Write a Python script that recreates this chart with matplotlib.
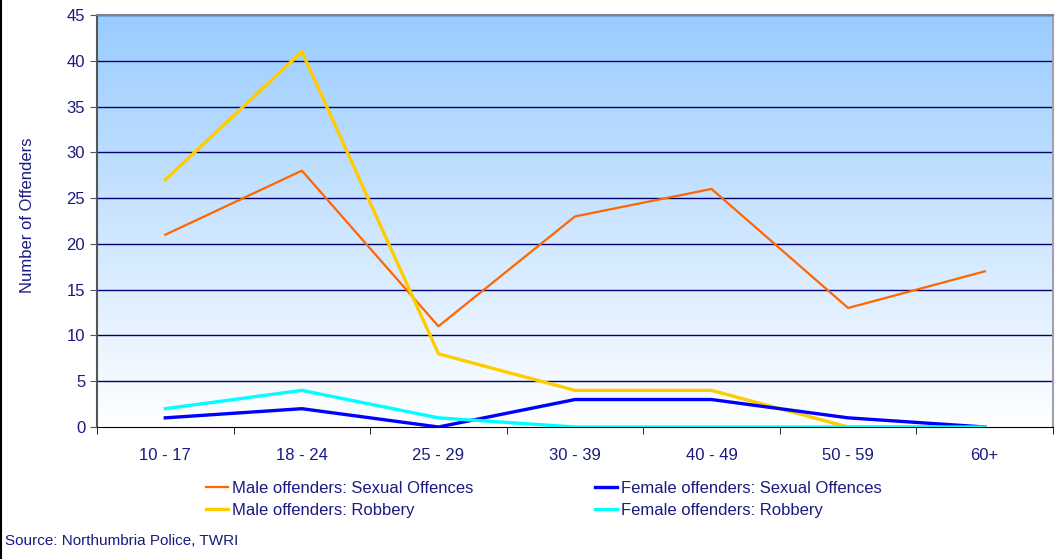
import numpy as np
import matplotlib
matplotlib.use("Agg")
from matplotlib import pyplot as plt
from matplotlib.lines import Line2D

# Data
age_groups = ["10 - 17", "18 - 24", "25 - 29", "30 - 39", "40 - 49", "50 - 59", "60+"]
male_sexual = [21, 28, 11, 23, 26, 13, 17]
male_robbery = [27, 41, 8, 4, 4, 0, 0]
female_sexual = [1, 2, 0, 3, 3, 1, 0]
female_robbery = [2, 4, 1, 0, 0, 0, 0]

navy = "#1a1a80"
plt.rcParams['font.family'] = ['Liberation Sans Narrow', 'Liberation Sans', 'DejaVu Sans']

fig = plt.figure(figsize=(10.57, 5.59), dpi=100)
ax = fig.add_axes([97/1057, 1 - 427/559, (1053-97)/1057, (427-15)/559])

x = np.arange(len(age_groups))

# gradient background: light blue on top, fading to white at the bottom
grad = np.linspace(0, 1, 256).reshape(-1, 1)
top = np.array([0x99, 0xCC, 0xFF]) / 255
bot = np.array([1.0, 1.0, 1.0])
img = top * (1 - grad[..., None]) + bot * grad[..., None]
img = img.reshape(256, 1, 3)
ax.imshow(img, aspect='auto', extent=[-0.5, 6.5, 0, 45], origin='upper', zorder=0)

for yv in range(5, 50, 5):
    ax.axhline(yv, color="#000070", lw=1.0, zorder=1)

ax.plot(x, male_sexual, color="#FF6600", lw=1.6, zorder=3, label="Male offenders: Sexual Offences")
ax.plot(x, male_robbery, color="#FFCC00", lw=2.4, zorder=3, label="Male offenders: Robbery")
ax.plot(x, female_sexual, color="#0000FF", lw=2.4, zorder=3, label="Female offenders: Sexual Offences")
ax.plot(x, female_robbery, color="#00FFFF", lw=2.4, zorder=4, label="Female offenders: Robbery")

ax.set_xlim(-0.5, 6.5)
ax.set_ylim(0, 45)
ax.set_yticks(range(0, 50, 5))
ax.set_xticks(x)
ax.set_xticklabels(age_groups)
ax.set_xticks(np.arange(-0.5, 7, 1), minor=True)
ax.tick_params(axis='x', which='major', length=0, pad=15, labelsize=12, labelcolor=navy)
ax.tick_params(axis='x', which='minor', length=5, direction='out', color='black')
ax.tick_params(axis='y', length=5, direction='out', color='#555555', labelsize=12, labelcolor=navy)

ax.spines['left'].set_color('#555555')
ax.spines['left'].set_linewidth(1.5)
ax.spines['bottom'].set_color('black')
ax.spines['top'].set_color('#808090')
ax.spines['top'].set_linewidth(1.5)
ax.spines['right'].set_color('#a0a0b0')
ax.spines['right'].set_linewidth(1.5)

fig.text(28/1057, 1 - 215/559, "Number of Offenders", rotation=90, ha='center', va='center',
         color=navy, fontsize=12)

handles, labels = ax.get_legend_handles_labels()
leg = fig.legend(handles, labels,
                 ncol=2, loc='upper left', bbox_to_anchor=(206/1057, 1 - 481/559),
                 frameon=False, fontsize=12, handlelength=1.3, handletextpad=0.25,
                 columnspacing=7.3, labelspacing=0.4, borderaxespad=0, borderpad=0)
for t in leg.get_texts():
    t.set_color(navy)

fig.text(5/1057, 1 - 541/559, "Source: Northumbria Police, TWRI", color=navy, fontsize=11,
         ha='left', va='center')

fig.add_artist(Line2D([1/1057, 1/1057], [0, 1], color='black', lw=1.5, transform=fig.transFigure))

fig.savefig("out.png", dpi=100)
